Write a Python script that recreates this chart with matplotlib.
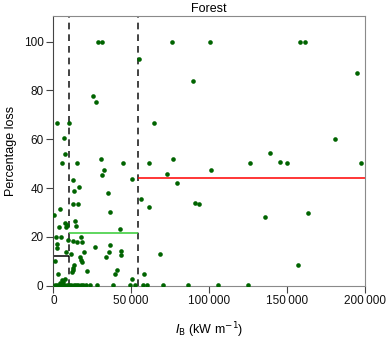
import matplotlib
matplotlib.use('Agg')
import matplotlib.pyplot as plt

# fireline intensity (kW/m) and percentage loss
ib = [28900, 31100, 55200, 76400, 100400, 158300, 161900, 90000, 194900, 25700,
      27600, 2600, 10300, 64700, 6900, 7500, 5400, 15000, 30400, 45000,
      61500, 76900, 32600, 31300, 181100, 139000, 126300, 145800, 150100, 197400,
      101300, 50400, 56100, 61500, 79600, 73000, 90800, 93400, 135800, 163800,
      157000, 68700,
      12500, 16500, 13100, 35300, 12500, 16100, 700, 4300, 36200, 7500,
      9000, 8200, 3500, 14100, 14600, 42600, 1500, 4700, 9200, 12500,
      17800, 15000, 18600, 27000, 36600, 2200, 2600, 19700, 8200, 11200,
      35800, 43500, 43500, 17100, 17800, 18200, 13300, 12800, 12500, 11800,
      21400, 40700, 39800, 2800, 5400, 7500, 6400, 50600, 58500, 33800,
      1100, 4500,
      1000, 2500, 4000, 5500, 7000, 8500, 10000, 11500, 13000, 14500,
      16000, 17500, 19000, 21000, 23500, 27900, 38500, 49300, 52500, 57400,
      60000, 70600, 86700, 105600, 124900]
loss = [100, 100, 92.9, 100, 100, 100, 100, 84, 87, 77.9,
        75.3, 66.8, 66.8, 66.8, 60.4, 53.9, 50.2, 50.2, 52, 50.2,
        50.2, 51.8, 47.5, 45.3, 60.2, 54.3, 50.2, 50.7, 50.2, 50.2,
        47.3, 43.7, 35.4, 32.4, 42.2, 45.8, 33.8, 33.6, 28.2, 29.7,
        8.6, 13.1,
        43.2, 40.6, 38.9, 37.9, 33.5, 33.5, 28.8, 31.6, 30.3, 25.6,
        24.9, 23.9, 24.1, 26.4, 24.6, 23.4, 20.1, 20.1, 18.7, 18.3,
        20.1, 17.8, 17.8, 16.0, 16.8, 17.1, 15.3, 13.9, 13.7, 13.0,
        13.7, 14.1, 12.7, 11.6, 10.5, 9.6, 8.5, 7.1, 6.4, 5.5,
        6.0, 6.4, 4.8, 4.7, 2.3, 2.6, 1.6, 2.9, 5.0, 11.8,
        10.1, 1.0,
        0.3, 0.3, 0.3, 0.3, 0.3, 0.3, 0.3, 0.3, 0.3, 0.3,
        0.3, 0.3, 0.3, 0.3, 0.3, 0.3, 0.3, 0.3, 0.3, 0.3,
        0.3, 0.3, 0.3, 0.3, 0.3]

# class breaks and mean loss per class
breaks = [0, 10000, 54500, 200000]
class_means = [12.2, 21.7, 44.0]
class_colors = ['black', '#33cc33', 'red']

xticks = [0, 50000, 100000, 150000, 200000]
xticklabels = ['0', '50\u2009000', '100\u2009000', '150\u2009000', '200\u2009000']
yticks = [0, 20, 40, 60, 80, 100]

plt.rcParams['font.family'] = ['Liberation Sans', 'DejaVu Sans']
plt.rcParams['font.size'] = 8.5

fig = plt.figure(figsize=(3.87, 3.39), dpi=100)
ax = fig.add_axes([0.1378, 0.1572, 0.8046, 0.7956])

ax.scatter(ib, loss, s=11, color='#006400', linewidths=0, zorder=3)

for b in breaks[1:3]:
    ax.axvline(b, color='#222222', lw=1.2, ls=(0, (4, 3)), zorder=2)

for i in range(3):
    ax.hlines(class_means[i], breaks[i], breaks[i + 1], color=class_colors[i], lw=1.1, zorder=2)

ax.set_xlim(0, 200000)
ax.set_ylim(0, 110.5)
ax.set_xticks(xticks)
ax.set_xticklabels(xticklabels)
ax.set_yticks(yticks)

ax.spines['left'].set_color('#444444')
for side in ['top', 'right', 'bottom']:
    ax.spines[side].set_color('#8a8a8a')
ax.tick_params(direction='out', length=5, width=0.8, color='#444444', labelcolor='#111111', pad=2)

ax.set_title('Forest', fontsize=9, pad=3)
ax.set_ylabel('Percentage loss', fontsize=9, labelpad=5)
ax.set_xlabel(r'$I_\mathrm{B}$ (kW m$^{-1}$)', fontsize=9, labelpad=9)

fig.savefig('out.png', dpi=100)
